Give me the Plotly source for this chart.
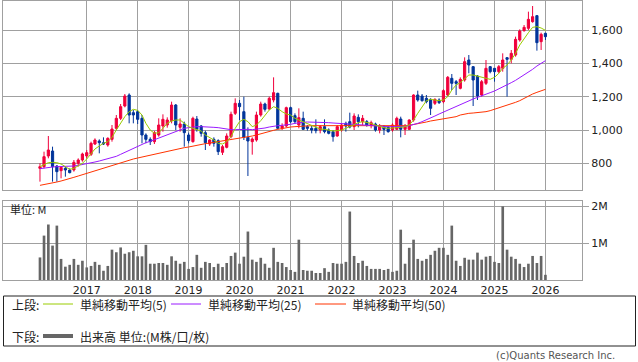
import pandas as pd
import plotly.graph_objects as go

# ---- data (monthly, Feb 2016 .. Jan 2026) ----
months = pd.date_range("2016-02-01", periods=120, freq="MS")

open_ = [770, 780, 844, 874, 784, 756, 770, 760, 760, 800, 820, 844,
         854, 916, 934, 924, 910, 944, 1010, 1070, 1144, 1210, 1104, 1110,
         1070, 970, 944, 930, 970, 1024, 1030, 1056, 1150, 1016, 1036, 970,
         930, 1066, 1024, 984, 916, 944, 936, 866, 896, 960, 1100, 1160,
         1110, 956, 930, 940, 1090, 1156, 1126, 1180, 1220, 1010, 1024, 1134,
         1086, 1030, 1070, 1020, 1010, 1010, 1000, 1020, 1000, 990, 964, 1000,
         1040, 1050, 1020, 1076, 1050, 1050, 1026, 1036, 1000, 1020, 1016, 1000,
         1004, 1066, 1004, 1004, 1060, 1210, 1204, 1190, 1184, 1160, 1180, 1170,
         1210, 1310, 1290, 1250, 1300, 1420, 1380, 1324, 1210, 1280, 1380, 1370,
         1350, 1370, 1434, 1424, 1450, 1540, 1596, 1610, 1650, 1686, 1530, 1580]
high = [800, 870, 964, 900, 790, 780, 780, 770, 820, 830, 864, 880,
        930, 950, 944, 956, 956, 1030, 1090, 1156, 1216, 1220, 1120, 1120,
        1090, 980, 956, 994, 1070, 1094, 1076, 1170, 1156, 1070, 1050, 984,
        1080, 1084, 1030, 996, 944, 956, 944, 910, 980, 1110, 1190, 1180,
        1200, 1016, 956, 1110, 1170, 1164, 1200, 1316, 1224, 1040, 1140, 1140,
        1100, 1130, 1110, 1030, 1024, 1064, 1030, 1064, 1010, 1000, 1030, 1040,
        1050, 1104, 1100, 1094, 1090, 1060, 1056, 1044, 1036, 1030, 1024, 1040,
        1080, 1080, 1036, 1064, 1214, 1236, 1216, 1210, 1190, 1190, 1190, 1244,
        1324, 1336, 1300, 1316, 1436, 1450, 1384, 1330, 1300, 1420, 1384, 1372,
        1390, 1460, 1436, 1480, 1560, 1604, 1630, 1710, 1744, 1690, 1584, 1584]
low = [690, 770, 830, 690, 690, 710, 720, 740, 750, 780, 810, 830,
       844, 910, 860, 910, 900, 930, 1000, 1060, 1136, 1040, 1040, 1036,
       920, 920, 910, 916, 960, 990, 1014, 1040, 1000, 990, 900, 920,
       924, 990, 960, 880, 904, 900, 850, 850, 890, 950, 1090, 1060,
       940, 724, 852, 930, 1080, 1110, 1120, 1166, 1004, 1000, 1016, 1040,
       1036, 1010, 1000, 996, 980, 980, 980, 980, 974, 930, 960, 990,
       990, 1010, 1000, 1016, 1030, 1020, 1010, 990, 980, 970, 984, 990,
       1000, 956, 970, 1000, 1050, 1170, 1170, 1160, 1090, 1150, 1156, 1160,
       1204, 1240, 1210, 1244, 1290, 1340, 1144, 1180, 1200, 1270, 1340, 1290,
       1340, 1350, 1200, 1400, 1440, 1530, 1590, 1600, 1644, 1476, 1480, 1540]
close = [780, 840, 880, 780, 750, 776, 760, 744, 806, 820, 856, 864,
         920, 940, 924, 916, 950, 1006, 1070, 1140, 1204, 1090, 1090, 1064,
         970, 944, 930, 984, 1030, 1064, 1060, 1150, 1030, 1036, 984, 936,
         1070, 1004, 980, 924, 940, 920, 870, 900, 964, 1094, 1160, 1140,
         956, 934, 946, 1090, 1156, 1124, 1190, 1224, 1010, 1024, 1134, 1050,
         1050, 1074, 1004, 1010, 1000, 996, 1020, 990, 980, 960, 1020, 1030,
         1024, 1018, 1084, 1050, 1070, 1030, 1044, 1000, 1024, 1004, 990, 1030,
         1070, 1004, 1020, 1060, 1210, 1180, 1176, 1170, 1130, 1184, 1164, 1236,
         1316, 1280, 1280, 1304, 1410, 1390, 1300, 1204, 1290, 1370, 1350, 1350,
         1380, 1420, 1424, 1460, 1544, 1594, 1616, 1664, 1680, 1524, 1574, 1560]

ma5 = [780, 790, 804, 806, 804, 796, 780, 764, 770, 786, 800, 826,
       856, 886, 904, 920, 930, 956, 1000, 1040, 1080, 1110, 1124, 1118,
       1090, 1040, 1000, 980, 984, 1010, 1040, 1054, 1060, 1060, 1040, 1020,
       1010, 1004, 994, 970, 956, 940, 920, 916, 930, 960, 1010, 1050,
       1064, 1050, 1020, 1030, 1056, 1090, 1120, 1140, 1130, 1110, 1096, 1090,
       1070, 1060, 1050, 1040, 1030, 1016, 1006, 1004, 1000, 994, 996, 1000,
       1010, 1020, 1034, 1044, 1050, 1046, 1040, 1030, 1020, 1014, 1010, 1010,
       1014, 1016, 1020, 1030, 1060, 1100, 1140, 1176, 1184, 1180, 1176, 1180,
       1200, 1240, 1270, 1284, 1310, 1330, 1330, 1324, 1316, 1310, 1304, 1316,
       1340, 1370, 1390, 1420, 1460, 1510, 1550, 1584, 1616, 1620, 1612, 1598]
ma25 = [768, 772, 776, 778, 780, 780, 780, 780, 784, 788, 792, 796,
        802, 808, 814, 820, 826, 834, 842, 854, 866, 880, 892, 904,
        914, 924, 932, 942, 952, 962, 972, 984, 994, 1004, 1010, 1014,
        1018, 1020, 1020, 1020, 1018, 1016, 1014, 1010, 1004, 1002, 1002, 1004,
        1004, 1004, 1002, 1004, 1008, 1012, 1018, 1024, 1026, 1028, 1030, 1034,
        1040, 1044, 1046, 1048, 1048, 1048, 1048, 1046, 1044, 1042, 1040, 1040,
        1040, 1038, 1036, 1034, 1032, 1030, 1028, 1026, 1024, 1022, 1020, 1020,
        1020, 1020, 1022, 1026, 1032, 1040, 1050, 1060, 1072, 1084, 1096, 1108,
        1120, 1130, 1140, 1150, 1164, 1176, 1186, 1196, 1204, 1214, 1224, 1234,
        1246, 1258, 1270, 1284, 1298, 1314, 1330, 1346, 1364, 1384, 1402, 1416]
ma50 = [668, 672, 676, 682, 688, 694, 700, 708, 716, 724, 732, 740,
        748, 756, 764, 772, 780, 788, 796, 804, 812, 820, 826, 832,
        838, 844, 850, 856, 862, 868, 874, 880, 886, 890, 894, 898,
        904, 908, 914, 918, 922, 926, 930, 932, 936, 940, 944, 948,
        952, 958, 964, 970, 978, 986, 992, 998, 1004, 1010, 1014, 1018,
        1020, 1022, 1024, 1024, 1026, 1026, 1026, 1026, 1026, 1026, 1026, 1026,
        1026, 1026, 1026, 1026, 1024, 1024, 1024, 1022, 1022, 1022, 1022, 1022,
        1024, 1024, 1026, 1028, 1032, 1036, 1042, 1048, 1054, 1058, 1062, 1066,
        1070, 1074, 1080, 1090, 1096, 1100, 1102, 1104, 1106, 1110, 1116, 1124,
        1132, 1140, 1148, 1156, 1166, 1176, 1190, 1204, 1216, 1226, 1236, 1244]

volume_m = [0.61, 1.20, 1.50, 0.93, 1.47, 0.57, 0.36, 0.41, 0.57, 0.41, 0.52, 0.34,
            0.38, 0.49, 0.41, 0.25, 0.38, 0.82, 0.75, 0.88, 0.71, 0.75, 0.79, 0.64,
            0.64, 0.95, 0.44, 0.44, 0.46, 0.46, 0.41, 0.64, 0.52, 0.44, 0.49, 0.30,
            0.35, 0.68, 0.33, 0.49, 0.46, 0.35, 0.44, 0.35, 0.46, 0.65, 0.74, 0.44,
            0.63, 1.31, 0.55, 0.49, 0.60, 0.44, 0.33, 0.87, 0.49, 0.46, 0.35, 0.27,
            0.22, 1.09, 0.27, 0.25, 0.25, 0.19, 0.19, 0.32, 0.22, 0.46, 0.44, 0.44,
            0.49, 1.85, 0.65, 0.46, 0.52, 0.38, 0.30, 0.30, 0.30, 0.27, 0.30, 0.22,
            0.25, 1.36, 0.44, 0.87, 1.09, 0.57, 0.52, 0.57, 0.68, 0.79, 0.87, 0.87,
            0.68, 1.47, 0.52, 0.38, 0.60, 0.55, 0.55, 0.74, 0.55, 0.63, 0.65, 0.49,
            0.46, 1.99, 0.82, 0.63, 0.57, 0.44, 0.35, 0.44, 0.65, 0.46, 0.65, 0.14]
volume = [v * 1_000_000 for v in volume_m]

year_ticks = ["2017-01-01", "2018-01-01", "2019-01-01", "2020-01-01", "2021-01-01",
              "2022-01-01", "2023-01-01", "2024-01-01", "2025-01-01", "2026-01-01"]
year_labels = ["2017", "2018", "2019", "2020", "2021", "2022", "2023", "2024", "2025", "2026"]
price_ticks = [800, 1000, 1200, 1400, 1600]
price_labels = ["800", "1,000", "1,200", "1,400", "1,600"]
vol_ticks = [1_000_000, 2_000_000]
vol_labels = ["1M", "2M"]

# ---- styling ----
W, H = 638, 362
UP = "#f0003c"
DOWN = "#00349a"
C5, C25, C50 = "#99cc00", "#9a1aff", "#ff3300"
GRID = "#a0a0a0"
FONT = "DejaVu Sans"
JFONT = "Noto Sans CJK JP"

def px(x):
    return x / W

def py(y):
    return 1 - y / H

fig = go.Figure()

fig.add_trace(go.Candlestick(
    x=months, open=open_, high=high, low=low, close=close,
    increasing=dict(line=dict(color=UP, width=1), fillcolor=UP),
    decreasing=dict(line=dict(color=DOWN, width=1), fillcolor=DOWN),
    whiskerwidth=0, xaxis="x", yaxis="y", showlegend=False, hoverinfo="skip"))

for vals, col in [(ma50, C50), (ma25, C25), (ma5, C5)]:
    fig.add_trace(go.Scatter(x=months, y=vals, mode="lines",
                             line=dict(color=col, width=1),
                             xaxis="x", yaxis="y", showlegend=False, hoverinfo="skip"))

fig.add_trace(go.Bar(x=months, y=volume, marker=dict(color="#666666", line=dict(width=0)),
                     width=19 * 86400000, xaxis="x2", yaxis="y2", showlegend=False,
                     hoverinfo="skip"))

xrange = ["2015-05-12", "2026-09-20"]
xdom = [px(3), px(582)]

common_x = dict(type="date", range=xrange, domain=xdom, tickvals=year_ticks,
                ticktext=year_labels, showgrid=True, gridcolor=GRID, gridwidth=1,
                showline=True, linecolor=GRID, mirror=True, zeroline=False,
                rangeslider=dict(visible=False), ticks="",
                tickfont=dict(family=FONT, size=11, color="#222"))

fig.update_layout(
    width=W, height=H, margin=dict(l=0, r=0, t=0, b=0),
    paper_bgcolor="white", plot_bgcolor="white",
    boxgap=0.2, bargap=0.3,
    xaxis=dict(common_x, anchor="y", showticklabels=False),
    xaxis2=dict(common_x, anchor="y2", showticklabels=True, matches="x"),
    yaxis=dict(domain=[py(190), py(1)], range=[640, 1774], side="right",
               tickvals=price_ticks, ticktext=price_labels,
               showgrid=True, gridcolor=GRID, gridwidth=1, zeroline=False,
               showline=True, linecolor=GRID, mirror=True,
               ticks="outside", ticklen=6, tickcolor=GRID,
               tickfont=dict(family=FONT, size=11, color="#222"), anchor="x"),
    yaxis2=dict(domain=[py(280), py(201)], range=[0, 2_135_000], side="right",
                tickvals=vol_ticks, ticktext=vol_labels,
                showgrid=True, gridcolor=GRID, gridwidth=1, zeroline=False,
                showline=True, linecolor=GRID, mirror=True,
                ticks="outside", ticklen=6, tickcolor=GRID,
                tickfont=dict(family=FONT, size=11, color="#222"), anchor="x2"),
    showlegend=False,
)

# ---- annotations ----
ann = []
ann.append(dict(x=px(8), y=py(209), xref="paper", yref="paper", text="単位: M",
                showarrow=False, xanchor="left", yanchor="middle",
                font=dict(family=JFONT, size=11, color="#222")))
ann.append(dict(x=px(617), y=py(355), xref="paper", yref="paper",
                text="(c)Quants Research Inc.", showarrow=False,
                xanchor="right", yanchor="middle",
                font=dict(family=FONT, size=10, color="#555")))

row1, row2 = 304, 336
legend_items = [
    (10, row1, "上段:"), (78, row1, "単純移動平均(5)"), (206, row1, "単純移動平均(25)"),
    (350, row1, "単純移動平均(50)"), (10, row2, "下段:"), (78, row2, "出来高 単位:(M株/口/枚)"),
]
for x0, y0, t in legend_items:
    ann.append(dict(x=px(x0), y=py(y0), xref="paper", yref="paper", text=t,
                    showarrow=False, xanchor="left", yanchor="middle",
                    font=dict(family=JFONT, size=12, color="#222")))
fig.update_layout(annotations=ann)

shapes = [
    dict(type="rect", xref="paper", yref="paper", x0=px(3.5), x1=px(635.5),
         y0=py(346), y1=py(296), line=dict(color="#222", width=1)),
    dict(type="line", xref="paper", yref="paper", x0=px(43), x1=px(73),
         y0=py(row1), y1=py(row1), line=dict(color=C5, width=1)),
    dict(type="line", xref="paper", yref="paper", x0=px(171), x1=px(201),
         y0=py(row1), y1=py(row1), line=dict(color=C25, width=1)),
    dict(type="line", xref="paper", yref="paper", x0=px(315), x1=px(346),
         y0=py(row1), y1=py(row1), line=dict(color=C50, width=1)),
    dict(type="line", xref="paper", yref="paper", x0=px(43), x1=px(73),
         y0=py(row2), y1=py(row2), line=dict(color="#666666", width=4)),
]
fig.update_layout(shapes=shapes)

fig.write_html("out.html", config={"displayModeBar": False},
               post_script="document.body.style.margin='0';document.body.style.overflow='hidden';")
